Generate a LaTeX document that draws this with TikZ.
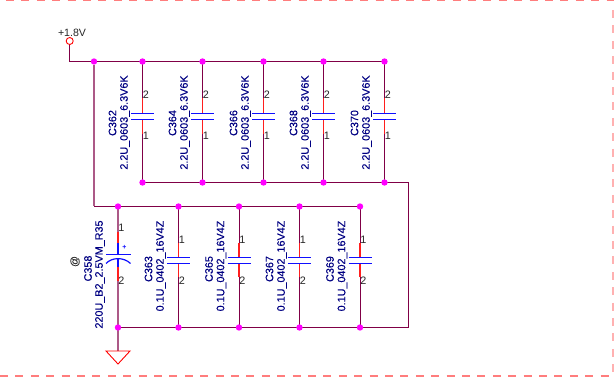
\documentclass[tikz,border=0pt]{standalone}
\usepackage{fontspec}
\setmainfont{Liberation Sans}
\newfontfamily\reffont[FakeBold=0.2]{Liberation Sans}
\definecolor{wire}{RGB}{128,0,70}
\definecolor{pin}{RGB}{255,30,30}
\definecolor{plate}{RGB}{15,15,255}
\definecolor{navy}{RGB}{0,0,130}
\definecolor{sheet}{RGB}{255,125,125}
\definecolor{junction}{RGB}{255,0,255}
\tikzset{x=1pt,y=-1pt,
 wireline/.style={draw=wire,line width=1pt},
 softwire/.style={draw=wire!65,line width=1.4pt},
 pinline/.style={draw=pin,line width=1.1pt},
 plateline/.style={draw=plate,line width=1.2pt},
 dot/.style={circle,fill=junction,inner sep=0pt,minimum size=6.4pt},
 reftext/.style={rotate=90,font=\reffont\fontsize{10.8}{12}\selectfont,text=navy,inner sep=0pt},
 pinnum/.style={font=\fontsize{10.8}{12}\selectfont,text=black!85,inner sep=0pt},
 border/.style={draw=sheet,line width=1.2pt,dash pattern=on 8pt off 7.4pt}}
\begin{document}
\begin{tikzpicture}
\useasboundingbox (0,0) rectangle (614,377);
% sheet border
\coordinate (bTL) at (6,0.7); \coordinate (bTR) at (614,0.7);
\coordinate (bBL) at (0,376); \coordinate (bBR) at (613,376);
\coordinate (bRT) at (613,10);
\draw[border] (bTL) -- (bTR);
\draw[border] (bBL) -- (bBR);
\draw[border,draw=sheet!60] (bRT) -- (bBR);
% power
\node[pinnum,anchor=south,font=\fontsize{10.6}{12}\selectfont] (vlabel) at (72,37) {+1.8V};
\node[circle,draw=red,fill=white,line width=.9pt,inner sep=0pt,minimum size=7pt] (vcc) at (69.7,41) {};
\coordinate (corner) at (69.7,61.5);
\node[dot] (j0) at (94,61.5) {};
\coordinate (c1) at (94,206.5);
\coordinate (rb) at (408.5,182.5);
\coordinate (rc) at (408.5,327.5);
% junctions of the upper row
\foreach \n/\x in {362/142.5,364/202.5,366/263.5,368/323.5,370/384.5}{
  \coordinate (t\n) at (\x,61.5);
  \coordinate (b\n) at (\x,182.5);
  \coordinate (p\n) at (\x,98);
  \coordinate (q\n) at (\x,113.5);
  \coordinate (r\n) at (\x,119.5);
  \coordinate (s\n) at (\x,134);
  \coordinate (la\n) at (\x-11.5,113.5); \coordinate (lb\n) at (\x+11.5,113.5);
  \coordinate (ma\n) at (\x-11.5,119.5); \coordinate (mb\n) at (\x+11.5,119.5);
  \draw[wireline] (t\n) -- (p\n) (s\n) -- (b\n);
  \draw[pinline] (p\n) -- (q\n) (r\n) -- (s\n);
  \draw[plateline] (la\n) -- (lb\n) (ma\n) -- (mb\n);
  \node[reftext] (ref\n) at (\x-30,123) {C\n};
  \node[reftext] (val\n) at (\x-17.5,122.5) {2.2U\_0603\_6.3V6K};
  \node[pinnum] (two\n) at (\x+3.5,95) {2};
  \node[pinnum] (one\n) at (\x+3.5,136) {1};
}
% upper rails
\draw[wireline] (vcc) -- (corner) -- (j0) -- (t362) -- (t364) -- (t366) -- (t368) -- (t370);
\draw[wireline] (b362) -- (b364) -- (b366) -- (b368) -- (b370) -- (rb) -- (rc);
\draw[softwire] (j0) -- (c1);
% lower row
\foreach \n/\x in {363/178.5,365/239,367/299.5,369/360}{
  \coordinate (t\n) at (\x,206.5);
  \coordinate (b\n) at (\x,327.5);
  \coordinate (p\n) at (\x,243);
  \coordinate (q\n) at (\x,257.5);
  \coordinate (r\n) at (\x,263.5);
  \coordinate (s\n) at (\x,277);
  \coordinate (la\n) at (\x-11.5,257.5); \coordinate (lb\n) at (\x+11.5,257.5);
  \coordinate (ma\n) at (\x-11.5,263.5); \coordinate (mb\n) at (\x+11.5,263.5);
  \draw[wireline] (t\n) -- (p\n) (s\n) -- (b\n);
  \draw[pinline] (p\n) -- (q\n) (r\n) -- (s\n);
  \draw[plateline] (la\n) -- (lb\n) (ma\n) -- (mb\n);
  \node[reftext] (ref\n) at (\x-30,269) {C\n};
  \node[reftext] (val\n) at (\x-17.5,266) {0.1U\_0402\_16V4Z};
  \node[pinnum] (one\n) at (\x+3.5,240) {1};
  \node[pinnum] (two\n) at (\x+3.5,281) {2};
}
% polarised capacitor C358
\coordinate (t358) at (118,206.5);
\coordinate (b358) at (118,327.5);
\coordinate (p358) at (118,232);
\coordinate (q358) at (118,243);
\coordinate (r358) at (118,254.5);
\coordinate (u358) at (118,259);
\coordinate (v358) at (118,267);
\coordinate (s358) at (118,281);
\coordinate (la358) at (106,254.5); \coordinate (lb358) at (130.5,254.5);
\coordinate (ca358) at (106,263.5); \coordinate (cb358) at (130.5,263.5);
\draw[softwire] (t358) -- (p358) (s358) -- (b358);
\draw[pinline] (p358) -- (q358) (v358) -- (s358);
\draw[plateline] (q358) -- (r358) (u358) -- (v358) (la358) -- (lb358);
\draw[plateline] (ca358) .. controls (112,257) and (124,257) .. (cb358);
\node[font=\fontsize{7}{8}\selectfont\bfseries,text=plate,inner sep=0pt] (plus358) at (124.5,247) {+};
\node[pinnum] (one358) at (121.5,228) {1};
\node[pinnum] (two358) at (121.5,281) {2};
\node[reftext] (ref358) at (88,268.5) {C358};
\node[reftext] (val358) at (100,274.5) {220U\_B2\_2.5VM\_R35};
\node[reftext,text=black!80] (at358) at (75,261.5) {@};
% lower rails
\coordinate (gndt) at (118,351);
\draw[wireline] (c1) -- (t358) -- (t363) -- (t365) -- (t367) -- (t369);
\draw[wireline] (b358) -- (b363) -- (b365) -- (b367) -- (b369) -- (rc);
\draw[softwire] (b358) -- (gndt);
% ground
\coordinate (ga) at (106,351); \coordinate (gb) at (130,351); \coordinate (gc) at (118,364);
\draw[draw=red,line width=.9pt] (ga) -- (gb) -- (gc) -- cycle;
% dots
\foreach \n in {362,364,366,368,370,363,365,367,369,358}{
  \node[dot] at (t\n) {};
  \node[dot] at (b\n) {};
}
\end{tikzpicture}
\end{document}
